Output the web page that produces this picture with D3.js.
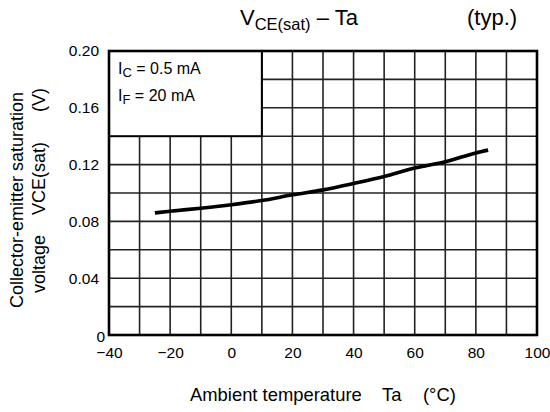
<!DOCTYPE html>
<html>
<head>
<meta charset="utf-8">
<script src="https://cdn.jsdelivr.net/npm/d3@7"></script>
<style>
  html, body { margin: 0; padding: 0; background: #fff; }
  svg { display: block; font-family: "Liberation Sans", Arial, sans-serif; }
</style>
</head>
<body>
<svg id="chart" width="550" height="412"></svg>
<script>
// Ambient temperature (°C) and typical V_CE(sat) (V)
const temperature = [-25, -20, -10, 0, 10, 20, 30, 40, 50, 60, 70, 80, 84];
const vceSat = [0.086, 0.0872, 0.0893, 0.0917, 0.0947, 0.0987, 0.1022, 0.1067, 0.1116, 0.1176, 0.1220, 0.1282, 0.1302];

const xTicks = [-40, -20, 0, 20, 40, 60, 80, 100];
const yTicks = [0, 0.04, 0.08, 0.12, 0.16, 0.20];
const xGrid = d3.range(-40, 101, 10);
const yGrid = [0, 0.02, 0.04, 0.06, 0.08, 0.10, 0.12, 0.14, 0.16, 0.18, 0.20];

// Condition box spans this data window in the upper-left corner
const boxX = [-40, 10];
const boxY = [0.14, 0.20];

const svg = d3.select("#chart");
const plotLeft = 109, plotRight = 537, plotTop = 51, plotBottom = 335;

const x = d3.scaleLinear().domain([-40, 100]).range([plotLeft, plotRight]);
const y = d3.scaleLinear().domain([0, 0.20]).range([plotBottom, plotTop]);

// Title
const title = svg.append("text").attr("y", 25).attr("font-size", 22).attr("fill", "#000");
title.append("tspan").attr("x", 240).text("V");
title.append("tspan").attr("font-size", 16.5).attr("dy", 5).text("CE(sat)");
title.append("tspan").attr("dy", -5).text(" \u2013 Ta");
svg.append("text").attr("x", 467).attr("y", 25).attr("font-size", 22).text("(typ.)");

// Grid
const grid = svg.append("g").attr("stroke", "#222").attr("stroke-width", 1.6);
grid.selectAll("line.v").data(xGrid).join("line").attr("class", "v")
  .attr("x1", d => x(d)).attr("x2", d => x(d))
  .attr("y1", plotTop).attr("y2", plotBottom);
grid.selectAll("line.h").data(yGrid).join("line").attr("class", "h")
  .attr("x1", plotLeft).attr("x2", plotRight)
  .attr("y1", d => y(d)).attr("y2", d => y(d));

// Condition box
svg.append("rect")
  .attr("x", x(boxX[0])).attr("y", y(boxY[1]))
  .attr("width", x(boxX[1]) - x(boxX[0]))
  .attr("height", y(boxY[0]) - y(boxY[1]))
  .attr("fill", "#fff").attr("stroke", "#000").attr("stroke-width", 2);

const c1 = svg.append("text").attr("x", 118).attr("y", 74).attr("font-size", 16);
c1.append("tspan").text("I");
c1.append("tspan").attr("font-size", 13).attr("dy", 3).text("C");
c1.append("tspan").attr("dy", -3).text(" = 0.5 mA");
const c2 = svg.append("text").attr("x", 118).attr("y", 101).attr("font-size", 16);
c2.append("tspan").text("I");
c2.append("tspan").attr("font-size", 13).attr("dy", 3).text("F");
c2.append("tspan").attr("dy", -3).text(" = 20 mA");

// Frame
svg.append("rect")
  .attr("x", plotLeft).attr("y", plotTop)
  .attr("width", plotRight - plotLeft).attr("height", plotBottom - plotTop)
  .attr("fill", "none").attr("stroke", "#000").attr("stroke-width", 2.6);

// Curve
const line = d3.line()
  .x((d, i) => x(temperature[i]))
  .y(d => y(d))
  .curve(d3.curveMonotoneX);
svg.append("path")
  .datum(vceSat)
  .attr("d", line)
  .attr("fill", "none").attr("stroke", "#000").attr("stroke-width", 3.6)
  .attr("stroke-linecap", "butt");

// Axes (labels only; grid and frame are drawn above)
const xAxis = svg.append("g")
  .attr("transform", `translate(0,${plotBottom})`)
  .call(d3.axisBottom(x).tickValues(xTicks).tickSize(0).tickPadding(12));
xAxis.select(".domain").remove();
xAxis.selectAll("text").attr("font-size", 15.5).attr("font-family", "Liberation Sans, Arial, sans-serif").attr("fill", "#000");

const yAxis = svg.append("g")
  .attr("transform", `translate(${plotLeft},0)`)
  .call(d3.axisLeft(y).tickValues(yTicks).tickSize(0).tickPadding(10)
    .tickFormat(d => d === 0 ? "0" : d3.format(".2f")(d)));
yAxis.select(".domain").remove();
yAxis.selectAll("text").attr("font-size", 15.5).attr("font-family", "Liberation Sans, Arial, sans-serif").attr("fill", "#000");
yAxis.selectAll(".tick").filter(d => d === 0).select("text").attr("x", -4).attr("dy", "0.45em");

// Axis titles
const xt = svg.append("text").attr("y", 401).attr("font-size", 18.4);
xt.append("tspan").attr("x", 190).text("Ambient temperature");
xt.append("tspan").attr("x", 382).text("Ta");
xt.append("tspan").attr("x", 423).text("(\u00B0C)");

svg.append("text")
  .attr("transform", "translate(23,308) rotate(-90)")
  .attr("font-size", 18)
  .text("Collector-emitter saturation");
const yt2 = svg.append("text")
  .attr("transform", "translate(45,293) rotate(-90)")
  .attr("font-size", 18);
yt2.append("tspan").attr("x", 0).text("voltage");
yt2.append("tspan").attr("x", 78).text("VCE(sat)");
yt2.append("tspan").attr("x", 181).text("(V)");
</script>
</body>
</html>
